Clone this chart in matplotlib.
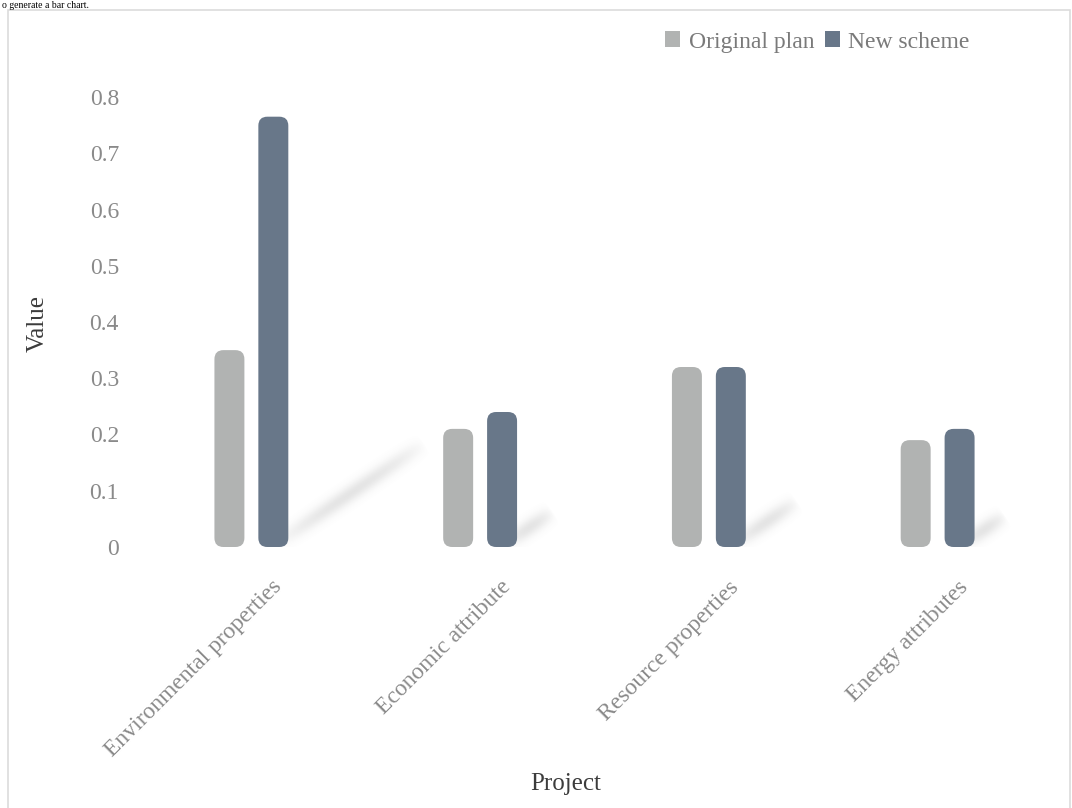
import numpy as np
import matplotlib
matplotlib.use("Agg")
import matplotlib.pyplot as plt
from matplotlib.patches import FancyBboxPatch, Patch, Rectangle

# ---- data ----
categories = ["Environmental properties", "Economic attribute",
              "Resource properties", "Energy attributes"]
original_plan = [0.35, 0.21, 0.32, 0.19]
new_scheme = [0.765, 0.24, 0.32, 0.21]
series_names = ["Original plan", "New scheme"]
y_ticks = [0, 0.1, 0.2, 0.3, 0.4, 0.5, 0.6, 0.7, 0.8]
y_tick_labels = ["0", "0.1", "0.2", "0.3", "0.4", "0.5", "0.6", "0.7", "0.8"]

# ---- style ----
c_orig = "#b1b3b2"
c_new = "#687789"
tick_color = "#8a8a8a"
title_color = "#3c3c3c"
serif = ["Liberation Serif", "DejaVu Serif"]
plt.rcParams["font.family"] = serif

W, H = 1072, 808
fig = plt.figure(figsize=(W / 100, H / 100), dpi=100)
fig.patch.set_facecolor("white")

# container frame of the screenshot
fig.add_artist(Rectangle((8 / W, -0.01), (1070 - 8) / W, 1 - 10 / H + 0.01,
                         transform=fig.transFigure, fill=False,
                         edgecolor="#dcdcdc", linewidth=1.2))
# caption text at the very top (only a sliver visible in the reference)
fig.text(2 / W, 1 - 8 / H, "o generate a bar chart.", fontsize=7,
         color="black", va="baseline", ha="left")

left, right = 137 / W, 1052 / W
bottom, top = 1 - 547 / H, 1 - 97 / H
ax = fig.add_axes([left, bottom, right - left, top - bottom])
xmin, xmax = -0.5, len(categories) - 0.5
ymin, ymax = 0, 0.8
ax.set_xlim(xmin, xmax)
ax.set_ylim(ymin, ymax)
for s in ax.spines.values():
    s.set_visible(False)
ax.set_facecolor("none")

x = np.arange(len(categories))
bw = 0.131
off = 0.096

# pixel scales
axw_px = (right - left) * W
axh_px = (top - bottom) * H
px_x = axw_px / (xmax - xmin)
px_y = axh_px / (ymax - ymin)
r_px = 9
rs = r_px / px_x
aspect = (r_px / px_y) / rs

# soft blurred shadows rendered as an image over the axes area
nx, ny = int(round(axw_px)), int(round(axh_px))
gx, gy = np.meshgrid(np.arange(nx) + 0.5, np.arange(ny) + 0.5)  # gy from bottom
alpha = np.zeros((ny, nx))
for xi, h in zip(x + off, new_scheme):
    hp = h * px_y
    x0 = (xi - xmin) * px_x + 4
    y0 = 4.0
    x1 = x0 + 0.34 * hp
    y1 = y0 + 0.23 * hp
    dx, dy = x1 - x0, y1 - y0
    L2 = dx * dx + dy * dy
    t = ((gx - x0) * dx + (gy - y0) * dy) / L2
    tc = np.clip(t, 0, 1)
    d = np.hypot(gx - (x0 + tc * dx), gy - (y0 + tc * dy))
    sigma = 8.0
    prof = np.clip(np.sin(np.pi * tc) ** 0.6, 0, 1)
    a = 0.19 * np.exp(-(d / sigma) ** 2) * prof
    alpha = np.maximum(alpha, a)
rgba = np.zeros((ny, nx, 4))
rgba[..., :3] = 0.45
rgba[..., 3] = alpha
ax.imshow(rgba[::-1], extent=(xmin, xmax, ymin, ymax), aspect="auto",
          zorder=1, interpolation="bilinear")
ax.set_xlim(xmin, xmax)
ax.set_ylim(ymin, ymax)

# bars
bars1 = ax.bar(x - off, original_plan, bw, color=c_orig)
bars2 = ax.bar(x + off, new_scheme, bw, color=c_new)
for bars, col in [(bars1, c_orig), (bars2, c_new)]:
    for b in bars:
        b.set_visible(False)
        fb = FancyBboxPatch((b.get_x(), b.get_y()), b.get_width(), b.get_height(),
                            boxstyle=f"round,pad=0,rounding_size={rs}",
                            mutation_aspect=aspect, facecolor=col,
                            edgecolor="none", zorder=3)
        ax.add_patch(fb)

ax.set_yticks(y_ticks)
ax.set_yticklabels(y_tick_labels)
ax.tick_params(axis="y", length=0, pad=13, labelsize=17, labelcolor=tick_color)
ax.set_xticks(x)
ax.set_xticklabels([])
ax.tick_params(axis="x", length=0)

for xi, lab in zip(x, categories):
    ax.annotate(lab, xy=(xi, 0), xycoords=("data", "axes fraction"),
                xytext=(27, -37), textcoords="offset pixels",
                rotation=45, rotation_mode="anchor", ha="right", va="center",
                fontsize=17, color=tick_color)

fig.text(38 / W, 1 - 323 / H, "Value", rotation=90, fontsize=18,
         color=title_color, ha="center", va="center")
fig.text(566 / W, 1 - 784 / H, "Project", fontsize=18, color=title_color,
         ha="center", va="center")

handles = [Patch(facecolor=c_orig, edgecolor="none"),
           Patch(facecolor=c_new, edgecolor="none")]
leg = fig.legend(handles, series_names, loc="center left",
                 bbox_to_anchor=(665 / W, 1 - 42 / H), ncol=2, frameon=False,
                 fontsize=17, handlelength=0.65, handleheight=0.65,
                 handletextpad=0.35, columnspacing=0.45, borderpad=0,
                 borderaxespad=0)
for t in leg.get_texts():
    t.set_color("#7a7a7a")

fig.savefig("out.png", dpi=100, facecolor="white")
